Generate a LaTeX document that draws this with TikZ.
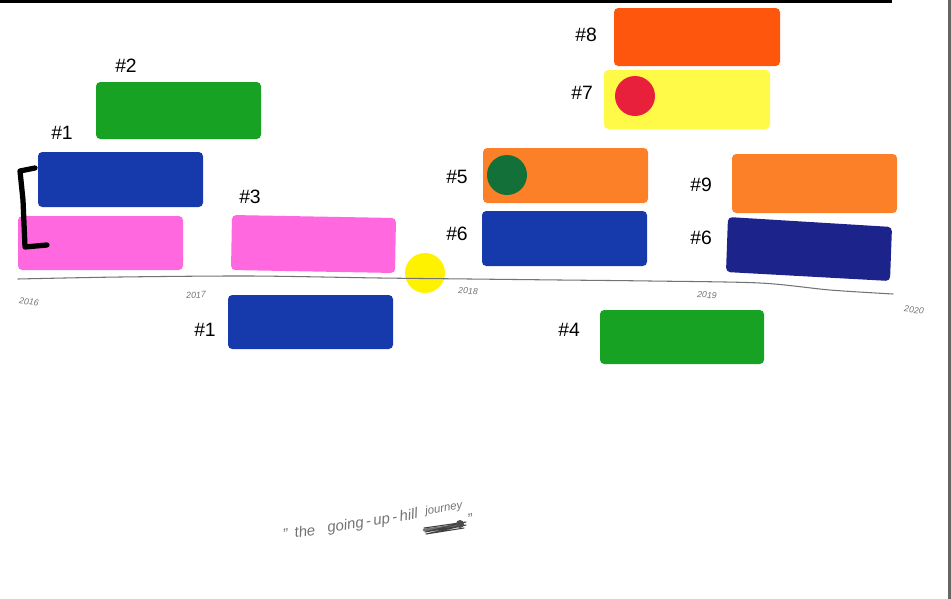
\documentclass[tikz,border=0pt]{standalone}
\usepackage{fontspec}
\setmainfont{Liberation Sans}
\begin{document}
\begin{tikzpicture}
% timeline sketch, pixel grid
\def\pxsz{0.02cm}
\providecommand{\tlCorner}{2.4pt}
\providecommand{\tlPenColor}{black!55}
\tikzset{
  tag/.style={font=\fontsize{11}{13}\selectfont, text=black, inner sep=0pt},
  year/.style={font=\fontsize{5}{6}\selectfont\itshape, text=\tlPenColor, inner sep=0pt},
  pen/.style={font=\fontsize{8.5}{10}\selectfont\itshape, text=\tlPenColor, inner sep=0pt},
}
\begin{scope}[x=\pxsz, y=-\pxsz, line cap=round, line join=round]
  \useasboundingbox (0,0) rectangle (951,599);
  % Page edges
  \fill[black] (0,0) rectangle (892,3);
  \fill[black!60] (948,0) rectangle (951,599);
  % Green cards
  \begin{scope}[fill={rgb,255:red,24;green,162;blue,36}, rounded corners=\tlCorner]
    \fill (96,82) rectangle (261,139);
    \fill (600,310) rectangle (764,364);
  \end{scope}
  % Blue cards
  \begin{scope}[fill={rgb,255:red,22;green,58;blue,172}, rounded corners=\tlCorner]
    \fill (38,152) rectangle (203,207);
    \fill (228,295) rectangle (393,349);
    \fill (482,211) rectangle (647,266);
  \end{scope}
  \fill[fill={rgb,255:red,28;green,36;blue,140}, rounded corners=\tlCorner]
    (728,217) -- (892,227) -- (890,281) -- (726,272) -- cycle;
  % Pink cards
  \begin{scope}[fill={rgb,255:red,255;green,104;blue,222}, rounded corners=\tlCorner]
    \fill (18,216) rectangle (183,270);
    \fill (232,215) -- (396,218) -- (395,273) -- (231,270) -- cycle;
  \end{scope}
  % Orange cards
  \begin{scope}[fill={rgb,255:red,252;green,128;blue,40}, rounded corners=\tlCorner]
    \fill (483,148) rectangle (648,203);
    \fill (732,154) rectangle (897,213);
  \end{scope}
  \fill[fill={rgb,255:red,255;green,86;blue,14}, rounded corners=\tlCorner] (614,8) rectangle (780,66);
  \fill[fill={rgb,255:red,255;green,250;blue,72}, rounded corners=\tlCorner] (604,70) rectangle (770,129);
  % Dots
  \fill[fill={rgb,255:red,18;green,112;blue,56}] (507,175) circle (20);
  \fill[fill={rgb,255:red,232;green,32;blue,60}] (635,96) circle (20);
  \fill[fill={rgb,255:red,255;green,242;blue,0}] (425,273) circle (20);
  % Bracket
  \draw[black, line width=3pt] (35,168) -- (20,171) -- (23,200) -- (25,247) -- (47,245);
  % Labels
  \node[tag] (t2) at (126,66) {\#2};
  \node[tag] (t1a) at (62,133) {\#1};
  \node[tag] (t3) at (250,197) {\#3};
  \node[tag] (t1b) at (205,330) {\#1};
  \node[tag] (t5) at (457,177) {\#5};
  \node[tag] (t6a) at (457,234) {\#6};
  \node[tag] (t8) at (586,35) {\#8};
  \node[tag] (t7) at (582,93) {\#7};
  \node[tag] (t9) at (701,185) {\#9};
  \node[tag] (t6b) at (701,238) {\#6};
  \node[tag] (t4) at (569,330) {\#4};
  % Time axis
  \draw[draw=\tlPenColor, line width=0.6pt] plot[smooth] coordinates
    {(18,279) (120,277) (250,276) (380,278) (470,279) (560,280) (650,281) (760,283) (830,290) (893,294)};
  \node[year, rotate=-8] (y16) at (29,302) {2016};
  \node[year, rotate=3] (y17) at (196,295) {2017};
  \node[year, rotate=-2] (y18) at (468,291) {2018};
  \node[year, rotate=-3] (y19) at (707,295) {2019};
  \node[year, rotate=-6] (y20) at (914,310) {2020};
  % Caption
  \node[pen, rotate=9, anchor=west] (cap) at (283,536) {"\ \,the \ \ going\,-\,up\,-\,hill};
  \node[pen, rotate=9, anchor=west, font=\fontsize{6.5}{8}\selectfont\itshape] (jy) at (425,512) {journey};
  \draw[draw=\tlPenColor, line width=1.6pt] (424,530) -- (462,525);
  \draw[draw=black!75, line width=0.6pt] (424,528) -- (466,522) -- (425,532) -- (466,525) -- (426,534) -- (464,528);
  \fill[black!70] (460,524) circle (4);
  \node[pen, rotate=9] (q) at (470,519) {"};
\end{scope}
\end{tikzpicture}
\end{document}
